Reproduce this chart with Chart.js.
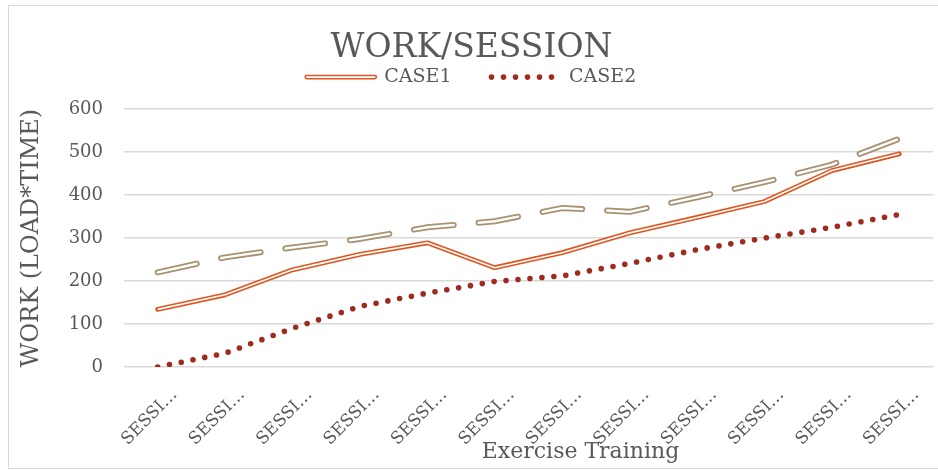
<!DOCTYPE html>
<html>
<head>
<meta charset="utf-8">
<script src="https://cdn.jsdelivr.net/npm/chart.js@4.4.1/dist/chart.umd.min.js"></script>
<style>
  html, body { margin: 0; padding: 0; background: #fff; }
  #frame { position: absolute; left: 8px; top: 5px; width: 940px; height: 462px; border: 1px solid #d9d9d9; }
  #wrap { position: absolute; left: 0; top: 0; width: 938px; height: 470px; }
</style>
</head>
<body>
<div id="frame"></div>
<div id="wrap"><canvas id="chart"></canvas></div>
<script>
// 数据
var categories = ['SESSION 1', 'SESSION 2', 'SESSION 3', 'SESSION 4', 'SESSION 5', 'SESSION 6',
                  'SESSION 7', 'SESSION 8', 'SESSION 9', 'SESSION 10', 'SESSION 11', 'SESSION 12'];
var case1 = [134, 168, 226, 262, 289, 231, 266, 312, 348, 385, 457, 496];
var case2 = [0, 32, 90, 141, 172, 199, 212, 241, 273, 300, 325, 355];
var series3 = [220, 255, 278, 298, 325, 339, 370, 361, 395, 430, 471, 531];
var yTicks = [0, 100, 200, 300, 400, 500, 600];

var FONT = "'DejaVu Serif', 'Liberation Serif', serif";
var GREY = '#595959';
var ORANGE = '#E0561E';
var DARKRED = '#9F2B1F';
var TAN = '#A89170';
var LEGEND_BOX = 68;

// 图例里 CASE1 的白色内线 + 横轴标题
var extras = {
  id: 'extras',
  afterDraw: function (chart) {
    var ctx = chart.ctx;
    var a = chart.chartArea;
    var hb = chart.legend && chart.legend.legendHitBoxes[0];
    ctx.save();
    if (hb) {
      var y = hb.top + hb.height / 2;
      ctx.strokeStyle = '#fff';
      ctx.lineWidth = 1.6;
      ctx.lineCap = 'round';
      ctx.beginPath();
      ctx.moveTo(hb.left, y);
      ctx.lineTo(hb.left + LEGEND_BOX, y);
      ctx.stroke();
    }
    ctx.fillStyle = GREY;
    ctx.font = '22px ' + FONT;
    ctx.textAlign = 'center';
    ctx.textBaseline = 'middle';
    ctx.fillText('Exercise Training', (a.left + a.right) / 2 + 52, a.bottom + 85);
    ctx.restore();
  }
};

function createChart() {
  var ctx = document.getElementById('chart').getContext('2d');
  return new Chart(ctx, {
    type: 'line',
    data: {
      labels: categories,
      datasets: [
        {
          label: 'CASE1',
          data: case1,
          borderColor: ORANGE,
          backgroundColor: ORANGE,
          borderWidth: 4.8,
          borderJoinStyle: 'round',
          borderCapStyle: 'round',
          pointRadius: 0,
          fill: false,
          order: 3,
          inLegend: true
        },
        {
          label: 'CASE2',
          data: case2,
          borderColor: DARKRED,
          backgroundColor: DARKRED,
          borderWidth: 5.6,
          borderDash: [0, 12],
          borderCapStyle: 'round',
          pointRadius: 0,
          fill: false,
          order: 4,
          inLegend: true
        },
        {
          label: 'CASE1 inner',
          data: case1,
          borderColor: '#fff',
          borderWidth: 1.6,
          borderJoinStyle: 'round',
          pointRadius: 0,
          fill: false,
          order: 2
        },
        {
          label: 'series3',
          data: series3,
          borderColor: TAN,
          borderWidth: 6,
          borderDash: [40, 25],
          borderCapStyle: 'round',
          borderJoinStyle: 'round',
          pointRadius: 0,
          fill: false,
          order: 6
        },
        {
          label: 'series3 inner',
          data: series3,
          borderColor: '#fff',
          borderWidth: 2.4,
          borderDash: [40, 25],
          borderCapStyle: 'round',
          borderJoinStyle: 'round',
          pointRadius: 0,
          fill: false,
          order: 5
        }
      ]
    },
    options: {
      responsive: true,
      maintainAspectRatio: false,
      animation: false,
      layout: { padding: { left: 10, right: 5, top: 0, bottom: 0 } },
      plugins: {
        tooltip: { enabled: false },
        title: {
          display: true,
          text: 'WORK/SESSION',
          color: GREY,
          font: { family: FONT, size: 33, weight: 'normal' },
          padding: { top: 29, bottom: -41 }
        },
        legend: {
          display: true,
          position: 'top',
          labels: {
            color: GREY,
            font: { family: FONT, size: 19 },
            usePointStyle: true,
            pointStyle: 'line',
            pointStyleWidth: LEGEND_BOX,
            padding: 40,
            generateLabels: function (chart) {
              var items = Chart.defaults.plugins.legend.labels.generateLabels(chart);
              return items.map(function (it) {
                var ds = chart.data.datasets[it.datasetIndex];
                it.lineDash = ds.borderDash || [];
                it.lineCap = ds.borderCapStyle || 'butt';
                it.lineWidth = ds.borderWidth;
                it.strokeStyle = ds.borderColor;
                it.fillStyle = ds.borderColor;
                it.pointStyle = 'line';
                return it;
              });
            },
            filter: function (item, data) {
              return !!data.datasets[item.datasetIndex].inLegend;
            }
          }
        }
      },
      scales: {
        x: {
          type: 'category',
          offset: true,
          grid: { display: false },
          border: { display: false },
          ticks: {
            color: GREY,
            font: { family: FONT, size: 17 },
            minRotation: 45,
            maxRotation: 45,
            autoSkip: false,
            labelOffset: 17,
            padding: 10,
            callback: function (v) {
              return this.getLabelForValue(v).slice(0, 5) + '\u2026';
            }
          },
          afterFit: function (s) { s.height = 103; }
        },
        // 只用来在图例和绘图区之间留空
        xTop: {
          type: 'category',
          position: 'top',
          grid: { display: false },
          border: { display: false },
          ticks: { display: false },
          afterFit: function (s) { s.height = 12.5; }
        },
        y: {
          min: 0,
          max: 600,
          afterBuildTicks: function (s) {
            s.ticks = yTicks.map(function (v) { return { value: v }; });
          },
          grid: { color: '#d9d9d9', lineWidth: 1.5, drawTicks: false },
          border: { display: false },
          ticks: {
            color: GREY,
            font: { family: FONT, size: 18 },
            padding: 21
          },
          title: {
            display: true,
            text: 'WORK (LOAD*TIME)',
            color: GREY,
            font: { family: FONT, size: 24 },
            padding: { top: 7, bottom: 0 }
          },
          afterFit: function (s) { s.width = 114; }
        }
      }
    },
    plugins: [extras]
  });
}

var chart = createChart();
</script>
</body>
</html>
